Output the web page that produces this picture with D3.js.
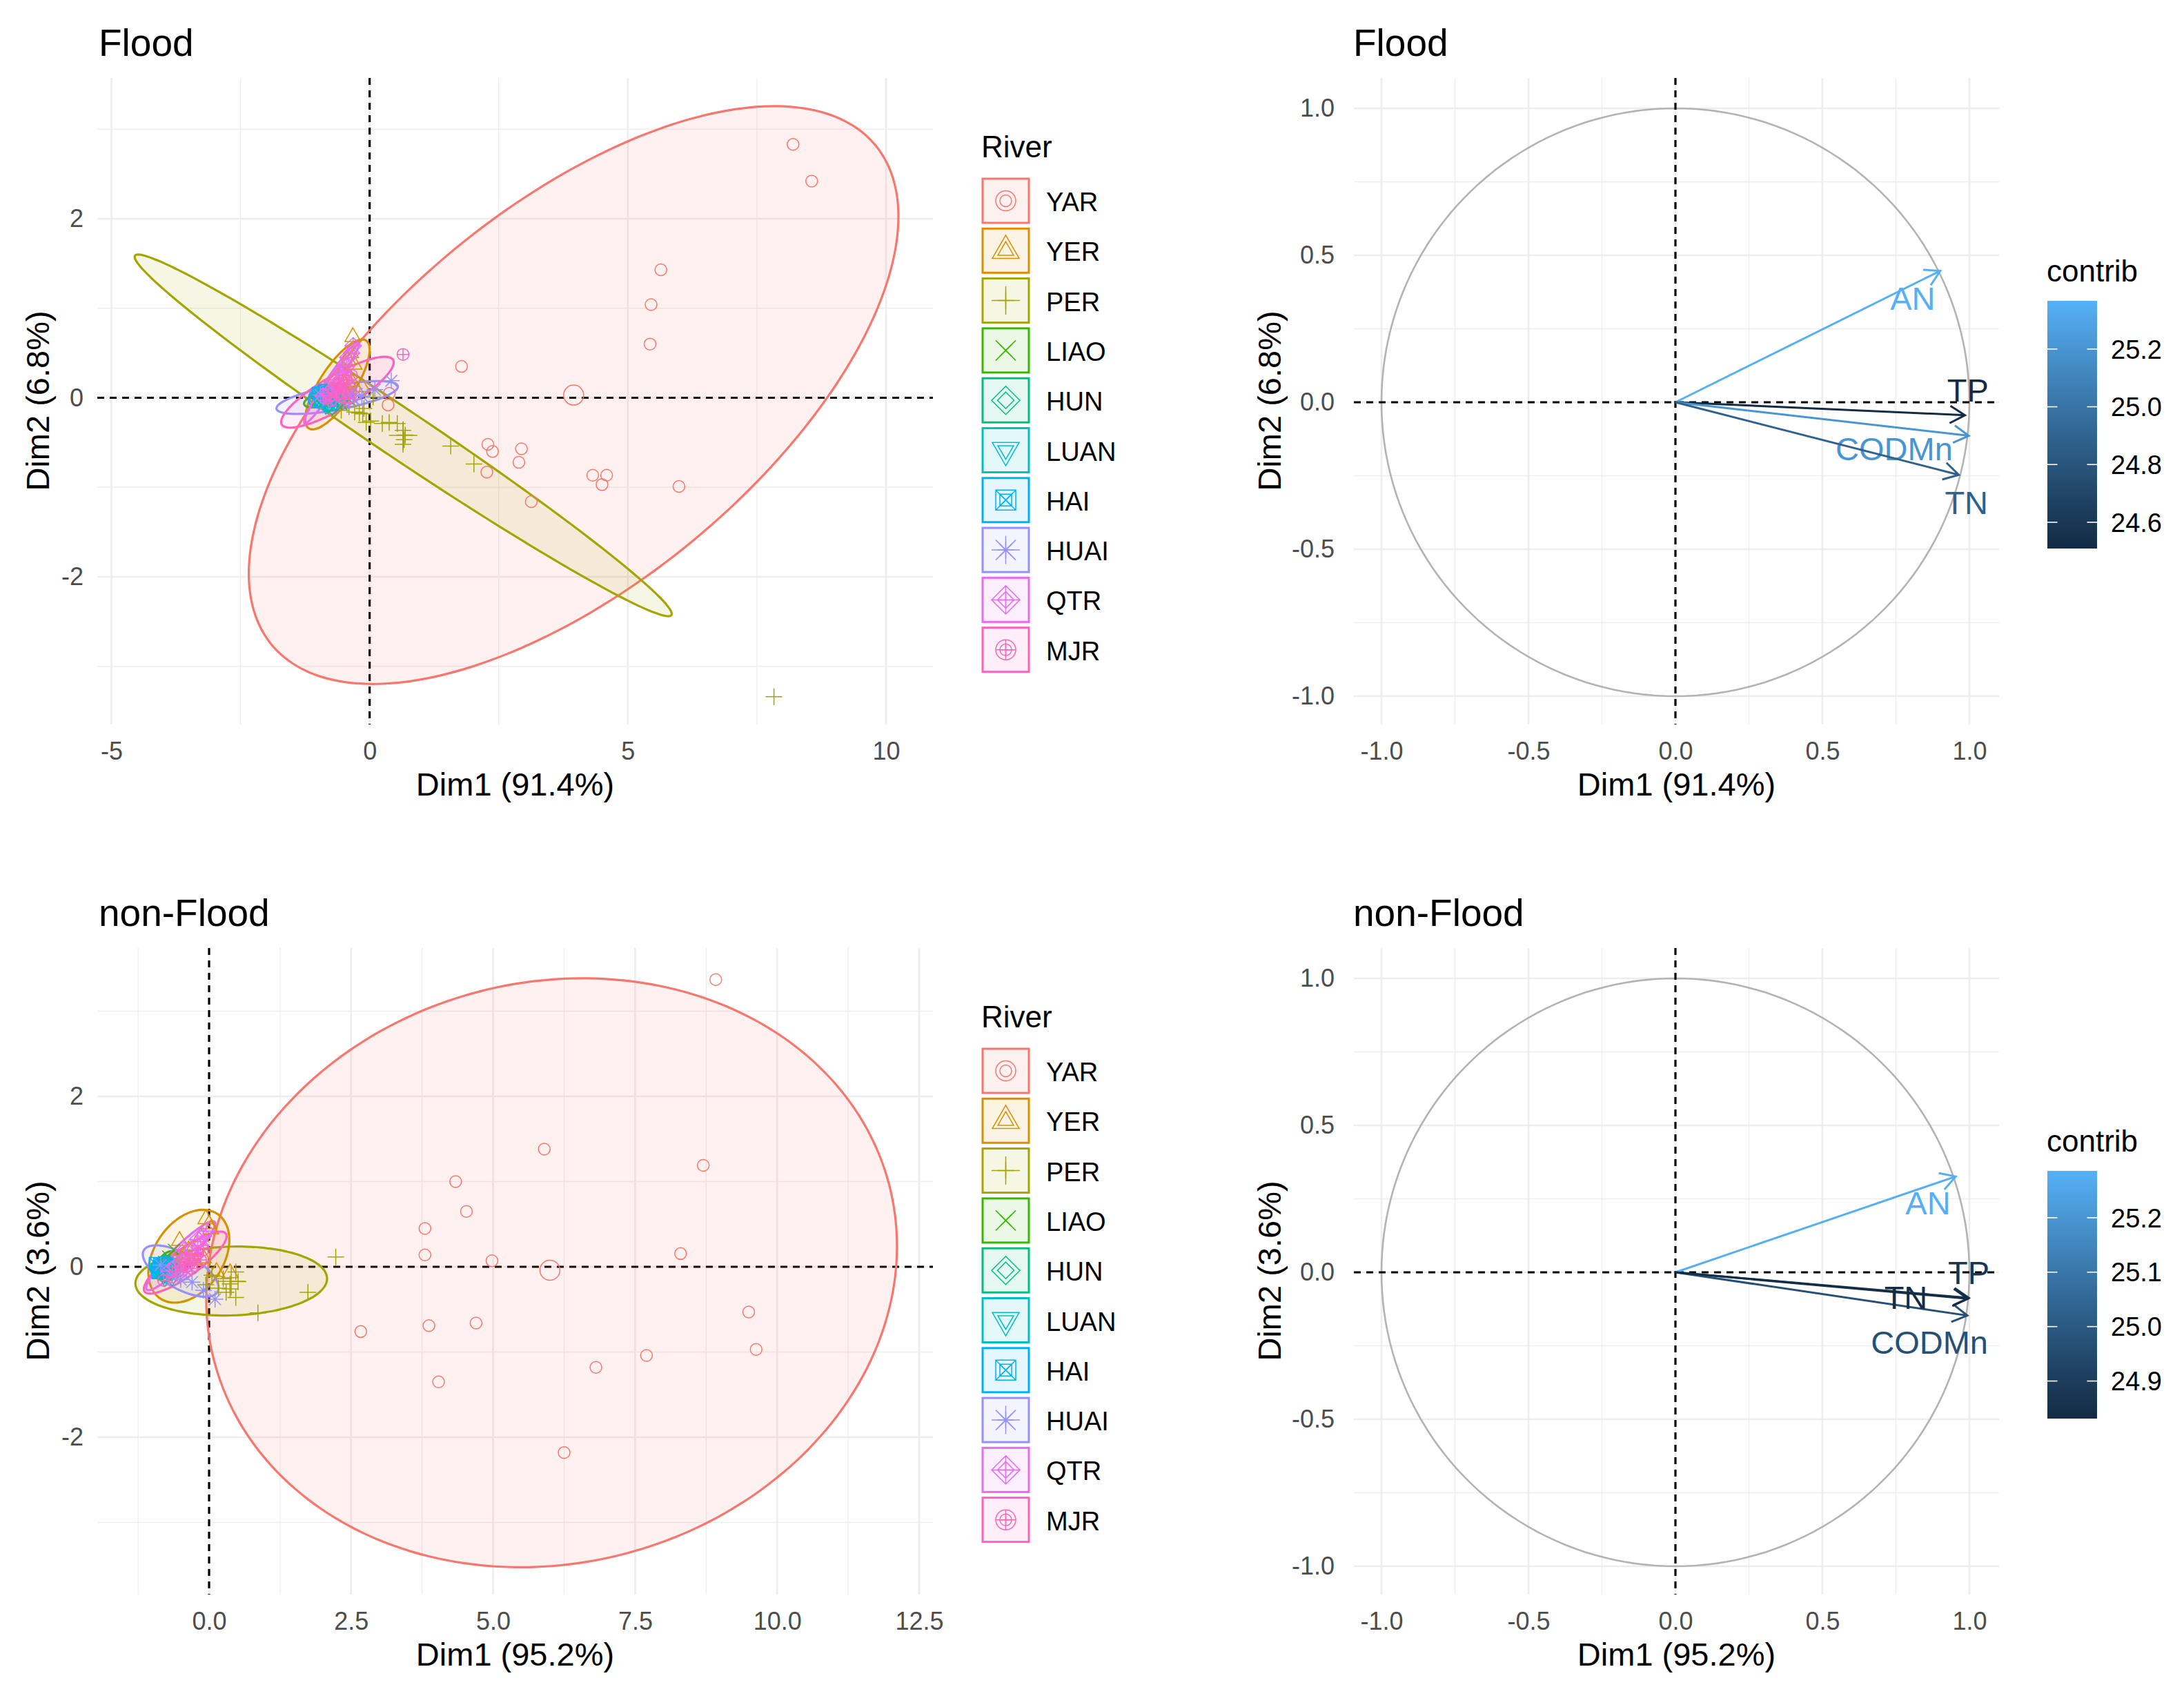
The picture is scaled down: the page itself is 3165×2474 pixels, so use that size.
<!DOCTYPE html>
<html>
<head>
<meta charset="utf-8">
<script src="https://cdn.jsdelivr.net/npm/d3@7"></script>
<style>
  html, body { margin: 0; background: #fff; }
  text { font-family: "Liberation Sans", Arial, sans-serif; }
</style>
</head>
<body>
<div id="chart"></div>
<script>
const rivers = ["YAR", "YER", "PER", "LIAO", "HUN", "LUAN", "HAI", "HUAI", "QTR", "MJR"];
const riverColors = ["#F8766D", "#D89000", "#A3A500", "#39B600", "#00BF7D", "#00BFC4", "#00B0F6", "#9590FF", "#E76BF3", "#FF62BC"];

// scores per river: [dim1, dim2]
const floodScores = [
  [[8.2,2.83],[8.56,2.42],[5.64,1.43],[5.45,1.04],[5.43,.6],[1.78,.35],[2.29,-.52],[2.38,-.6],[2.27,-.83],[2.94,-.57],[2.89,-.72],[3.13,-1.16],[4.32,-.865],[4.5,-.97],[4.59,-.865],[5.99,-.99],[.357,-.08],[.38,.05],[-.3,.1],[-.5,.02]],
  [[-.325,.68],[-.37,.5],[-.42,.42],[-.3,.37],[-.5,.3],[-.55,.2],[-.35,.18],[-.45,.05],[-.25,.08],[-.15,.12],[-.6,.1],[-.75,.08],[-.65,-.02]],
  [[7.83,-3.34],[1.57,-.54],[2.02,-.74],[.245,-.288],[.379,-.275],[.535,-.288],[.646,-.365],[.69,-.417],[.668,-.468],[.646,-.52],[-.29,-.16],[-.2,-.17],[-.134,-.18],[-.11,-.12],[.067,.008],[-.067,-.275],[.02,-.26],[-.55,-.14],[-.4,-.1]],
  [[-1.0,-.02],[-.85,.03],[-.7,-.05],[-.55,-.07],[-.4,-.02],[-.75,.01],[-.9,-.05],[-.62,.02]],
  [[-.95,.02],[-.8,-.06],[-.72,-.1],[-.85,.05],[-.7,.03],[-.6,-.03]],
  [[-.98,-.02],[-.85,-.05],[-.78,.02],[-.92,.04],[-.72,-.04]],
  [[-1.0,.05],[-.88,.08],[-.8,0],[-.95,-.04],[-.75,-.08],[-.82,.05]],
  [[.42,.19],[-.4,.05],[-.5,-.05],[-.65,0],[-.8,-.03],[-.95,.03],[-.3,-.02],[-.15,.02],[.1,.09]],
  [[-.32,.58],[-.35,.5],[-.45,.35],[-.5,.28],[-.55,.2],[-.62,.12],[-.7,.1],[-.8,.05],[-.9,.02],[-.55,.3],[-.42,.45],[-.6,.05],[-.65,.15]],
  [[.646,.484],[-.5,.2],[-.55,.12],[-.62,.05],[-.7,.08],[-.45,.1],[-.4,0],[-.8,0],[-.35,.25],[-.6,.16],[-.75,-.03],[-.5,0]]
];
const floodMeans = [[3.95,.03],[-.52,.2],[.65,-.42],[-.72,-.02],[-.8,-.01],[-.85,-.01],[-.87,.01],[-.4,.03],[-.58,.2],[-.45,.09]];
// ellipse per river: [centre x, centre y, half width, half height, correlation]
const floodEllipses = [
  [3.95,.03,6.29,3.227,.618],[-.624,.149,.624,.502,.77],[.65,-.42,5.2,2.02,-.987],
  [-.825,0,.446,.108,.6],[-.9,-.01,.2,.1,.4],[-.93,-.01,.15,.1,.2],[-.936,.02,.245,.129,.3],
  [-.628,.003,1.176,.184,.66],[-.735,.17,.535,.458,.97],[-.624,.062,1.09,.396,.84]
];

const nonFloodScores = [
  [[8.92,3.37],[5.9,1.38],[8.7,1.19],[4.34,1],[4.53,.65],[3.8,.45],[3.8,.14],[4.98,.07],[8.3,.155],[9.5,-.53],[9.63,-.97],[2.67,-.76],[3.87,-.69],[4.7,-.66],[4.04,-1.35],[6.81,-1.18],[7.7,-1.04],[6.25,-2.18]],
  [[-.057,.56],[0,.5],[.03,.44],[-.52,.305],[.37,-.073],[.13,-.06],[-.15,.35],[-.3,.2],[-.45,.12],[-.1,.1],[-.6,.05]],
  [[2.23,.116],[1.74,-.3],[.86,-.54],[.47,-.36],[.37,-.26],[.51,-.175],[.47,-.06],[.25,-.14],[.166,-.25],[-.057,-.21],[.05,-.1],[.3,-.3],[.37,-.2]],
  [[-.85,.02],[-.72,.12],[-.62,.2],[-.75,-.1],[-.6,-.05],[-.55,.05],[-.7,0]],
  [[-.9,-.03],[-.78,-.08],[-.7,.03],[-.82,.04],[-.65,-.06]],
  [[-.9,-.05],[-.8,-.1],[-.72,-.02],[-.85,.02],[-.65,-.12]],
  [[-.95,.04],[-.85,0],[-.75,-.06],[-.9,-.07],[-.68,.02]],
  [[.105,-.38],[-.1,-.275],[-.3,-.18],[-.5,-.15],[-.65,-.1],[-.85,.02],[-.4,-.05]],
  [[-.05,.42],[-.1,.36],[-.2,.32],[-.15,.25],[-.3,.2],[-.4,.1],[-.5,.05],[-.6,0],[-.7,-.05],[-.45,-.03],[-.25,.12]],
  [[-.1,.2],[-.2,.16],[-.28,.08],[-.38,.1],[-.45,.02],[-.55,-.05],[-.65,-.12],[-.8,-.16],[-.3,-.02],[-.15,.08]]
];
const nonFloodMeans = [[6,-.04],[-.36,.12],[.39,-.17],[-.72,.01],[-.78,-.02],[-.78,-.05],[-.8,-.01],[-.5,-.05],[-.42,.13],[-.42,.05]];
const nonFloodEllipses = [
  [6.03,-.07,6.08,3.456,.09],[-.356,.124,.712,.545,.35],[.39,-.167,1.687,.405,.07],
  [-.72,.008,.21,.175,.3],[-.78,-.01,.18,.12,.2],[-.76,-.02,.15,.1,.1],[-.805,-.005,.22,.13,.2],
  [-.5,-.05,.667,.302,-.65],[-.5,.13,.607,.405,.93],[-.42,.049,.728,.364,.85]
];

// variable arrows: tip, label position and contribution
const variables = ["AN", "TP", "CODMn", "TN"];
const floodTips = [[.901,.447],[.985,-.044],[.998,-.114],[.964,-.247]];
const floodLabels = [[.807,.355],[.995,.042],[.744,-.157],[.99,-.34]];
const floodContrib = [25.36,24.51,25.2,24.88];
const nonFloodTips = [[.9535,.326],[.998,-.087],[.993,-.147],[.995,-.09]];
const nonFloodLabels = [[.859,.236],[.998,0],[.864,-.237],[.784,-.085]];
const nonFloodContrib = [25.28,24.87,24.97,24.84];

const floodBarLimits = [24.509,25.367];
const floodBarTicks = [24.6,24.8,25.0,25.2];
const nonFloodBarLimits = [24.831,25.286];
const nonFloodBarTicks = [24.9,25.0,25.1,25.2];

const floodXTicks = [-5,0,5,10];
const floodXMinor = [-2.5,2.5,7.5];
const nonFloodXTicks = [0,2.5,5,7.5,10,12.5];
const nonFloodXMinor = [-1.25,1.25,3.75,6.25,8.75,11.25];
const scoreYTicks = [-2,0,2];
const scoreYMinor = [-3,-1,1,3];
const loadTicks = [-1,-.5,0,.5,1];
const loadMinor = [-.75,-.25,.25,.75];

const rowShift = 1261;
const panelTop = 113, panelBottom = 1050;

const svg = d3.select("#chart").append("svg")
  .attr("width", 3165).attr("height", 2474)
  .style("display", "block").style("background", "#fff");

// R pch symbols, r is the circle radius of the symbol
function symbolPath(i, r) {
  const q = Math.SQRT2 * r, p = d3.path();
  const poly = (pts) => { pts.forEach((c, k) => k ? p.lineTo(c[0], c[1]) : p.moveTo(c[0], c[1])); p.closePath(); };
  const seg = (a, b, c, d) => { p.moveTo(a, b); p.lineTo(c, d); };
  const circle = () => { p.moveTo(r, 0); p.arc(0, 0, r, 0, 2 * Math.PI); };
  const plus = (h) => { seg(-h, 0, h, 0); seg(0, -h, 0, h); };
  const cross = (h) => { seg(-h, -h, h, h); seg(-h, h, h, -h); };
  const diamond = () => poly([[0, -q], [q, 0], [0, q], [-q, 0]]);
  if (i === 0) circle();
  if (i === 1) poly([[0, -1.555 * r], [1.347 * r, .778 * r], [-1.347 * r, .778 * r]]);
  if (i === 2) plus(q);
  if (i === 3) cross(r);
  if (i === 4) diamond();
  if (i === 5) poly([[0, 1.555 * r], [1.347 * r, -.778 * r], [-1.347 * r, -.778 * r]]);
  if (i === 6) { poly([[-r, -r], [r, -r], [r, r], [-r, r]]); cross(r); }
  if (i === 7) { plus(q); cross(r); }
  if (i === 8) { diamond(); plus(q); }
  if (i === 9) { circle(); plus(r); }
  return p.toString();
}

function drawFrame(g, o) {
  const grid = (vals, w, vertical) => g.append("g").selectAll("line").data(vals).join("line")
    .attr("x1", d => vertical ? o.x(d) : o.left)
    .attr("x2", d => vertical ? o.x(d) : o.right)
    .attr("y1", d => vertical ? panelTop : o.y(d))
    .attr("y2", d => vertical ? panelBottom : o.y(d))
    .attr("stroke", "#EDEDED").attr("stroke-width", w);
  grid(o.yMinor, 1.3, false);
  grid(o.xMinor, 1.3, true);
  grid(o.yTicks, 2.6, false);
  grid(o.xTicks, 2.6, true);

  const xAxis = d3.axisBottom(o.x).tickValues(o.xTicks).tickSize(0).tickPadding(25).tickFormat(o.xFormat);
  const yAxis = d3.axisLeft(o.y).tickValues(o.yTicks).tickSize(0).tickPadding(o.yPad).tickFormat(o.yFormat);
  [g.append("g").attr("transform", `translate(0,${panelBottom})`).call(xAxis),
   g.append("g").attr("transform", `translate(${o.left},0)`).call(yAxis)].forEach(a => {
    a.select(".domain").remove();
    a.selectAll("text").attr("font-size", 36).attr("fill", "#4D4D4D")
      .attr("font-family", "Liberation Sans");
  });

  g.append("text").attr("x", o.titleX).attr("y", 81).attr("font-size", 55).text(o.title);
  g.append("text").attr("x", (o.left + o.right) / 2).attr("y", 1153)
    .attr("text-anchor", "middle").attr("font-size", 47).text(o.xTitle);
  g.append("text").attr("transform", `translate(${o.yTitleX},581) rotate(-90)`)
    .attr("text-anchor", "middle").attr("font-size", 47).text(o.yTitle);
}

function zeroLines(g, o) {
  const z = g.append("g").attr("stroke", "#000").attr("stroke-width", 3.2).attr("stroke-dasharray", "10 8");
  z.append("line").attr("x1", o.left).attr("x2", o.right).attr("y1", o.y(0)).attr("y2", o.y(0));
  z.append("line").attr("x1", o.x(0)).attr("x2", o.x(0)).attr("y1", panelTop).attr("y2", panelBottom);
}

function drawScores(g, o) {
  const a = Object.assign({ x: o.xScale, y: o.yScale, left: 141, right: 1352, titleX: 143, yPad: 20, yTitleX: 71,
    yMinor: scoreYMinor, yTicks: scoreYTicks, yFormat: d => String(d) }, o);
  drawFrame(g, a);
  zeroLines(g, a);

  const outline = d3.line().curve(d3.curveCardinalClosed);
  const angles = d3.range(0, 2 * Math.PI, Math.PI / 60);
  rivers.forEach((river, i) => {
    const [cx, cy, rx, ry, rho] = o.ellipses[i];
    const ring = angles.map(t => [
      a.x(cx + rx * Math.cos(t)),
      a.y(cy + ry * (rho * Math.cos(t) + Math.sqrt(1 - rho * rho) * Math.sin(t)))
    ]);
    g.append("path").attr("d", outline(ring))
      .attr("fill", riverColors[i]).attr("fill-opacity", .1)
      .attr("stroke", riverColors[i]).attr("stroke-width", 3.2);
  });
  rivers.forEach((river, i) => {
    const sg = g.append("g").attr("fill", "none").attr("stroke", riverColors[i]).attr("stroke-width", 1.5);
    sg.selectAll("path.pt").data(o.scores[i]).join("path").attr("class", "pt")
      .attr("transform", d => `translate(${a.x(d[0])},${a.y(d[1])})`)
      .attr("d", symbolPath(i, 8.5));
    sg.append("path")
      .attr("transform", `translate(${a.x(o.means[i][0])},${a.y(o.means[i][1])})`)
      .attr("d", symbolPath(i, 14.5));
  });

  // legend
  const lg = g.append("g");
  lg.append("text").attr("x", 1422).attr("y", 228).attr("font-size", 44).text("River");
  const row = d3.scaleBand().domain(rivers).range([254, 254 + 723]);
  const keys = lg.selectAll("g").data(rivers).join("g")
    .attr("transform", d => `translate(0,${row(d)})`);
  keys.append("rect").attr("x", 1424).attr("y", 5).attr("width", 67).attr("height", 64)
    .attr("fill", (d, i) => riverColors[i]).attr("fill-opacity", .1)
    .attr("stroke", (d, i) => riverColors[i]).attr("stroke-width", 3);
  [14.5, 8.5].forEach(r => keys.append("path")
    .attr("transform", "translate(1457.5,37)")
    .attr("d", (d, i) => symbolPath(i, r))
    .attr("fill", "none").attr("stroke", (d, i) => riverColors[i]).attr("stroke-width", 1.5));
  keys.append("text").attr("x", 1516).attr("y", 52).attr("font-size", 38).text(d => d);
}

function drawLoadings(g, o) {
  const x = d3.scaleLinear().domain([-1, 1]).range([2002, 2854]);
  const y = d3.scaleLinear().domain([-1, 1]).range([1009, 157]);
  const a = Object.assign({ x, y, left: 1962, right: 2897, titleX: 1961, yPad: 28, yTitleX: 1856, xTicks: loadTicks, xMinor: loadMinor,
    yTicks: loadTicks, yMinor: loadMinor, xFormat: d => d.toFixed(1), yFormat: d => d.toFixed(1) }, o);
  drawFrame(g, a);

  const circlePts = d3.range(0, 2 * Math.PI + .01, Math.PI / 90).map(t => [x(Math.cos(t)), y(Math.sin(t))]);
  g.append("path").attr("d", d3.line()(circlePts)).attr("fill", "none")
    .attr("stroke", "#B3B3B3").attr("stroke-width", 2.6);
  zeroLines(g, a);

  const color = d3.scaleLinear().domain(o.limits).range(["#132B43", "#56B1F7"]).interpolate(d3.interpolateLab);
  variables.forEach((name, i) => {
    const tx = x(o.tips[i][0]), ty = y(o.tips[i][1]);
    const ang = Math.atan2(ty - y(0), tx - x(0));
    const barb = (s) => [tx - 25 * Math.cos(ang + s), ty - 25 * Math.sin(ang + s)];
    const [b1, b2] = [barb(Math.PI / 6), barb(-Math.PI / 6)];
    const p = d3.path();
    p.moveTo(x(0), y(0)); p.lineTo(tx, ty);
    p.moveTo(b1[0], b1[1]); p.lineTo(tx, ty); p.lineTo(b2[0], b2[1]);
    g.append("path").attr("d", p.toString()).attr("fill", "none")
      .attr("stroke", color(o.contrib[i])).attr("stroke-width", 3);
    g.append("text").attr("x", x(o.labels[i][0])).attr("y", y(o.labels[i][1]))
      .attr("dy", ".36em").attr("text-anchor", "middle").attr("font-size", 47)
      .attr("fill", color(o.contrib[i])).text(name);
  });

  // colour bar
  const bar = d3.scaleLinear().domain(o.limits).range([795, 436]);
  const gradId = "grad" + o.title.replace(/\W/g, "");
  const stops = d3.range(0, 1.01, .1);
  g.append("defs").append("linearGradient").attr("id", gradId)
    .attr("x1", 0).attr("x2", 0).attr("y1", 1).attr("y2", 0)
    .selectAll("stop").data(stops).join("stop")
    .attr("offset", d => d).attr("stop-color", d => color(o.limits[0] + d * (o.limits[1] - o.limits[0])));
  g.append("text").attr("x", 2966).attr("y", 408).attr("font-size", 44).text("contrib");
  g.append("rect").attr("x", 2967).attr("y", 436).attr("width", 72).attr("height", 359)
    .attr("fill", `url(#${gradId})`);
  const t = g.append("g").selectAll("g").data(o.barTicks).join("g")
    .attr("transform", d => `translate(0,${bar(d)})`);
  [[2967, 2981.5], [3024.5, 3039]].forEach(s => t.append("line")
    .attr("x1", s[0]).attr("x2", s[1]).attr("stroke", "#fff").attr("stroke-width", 1.6));
  t.append("text").attr("x", 3059).attr("dy", ".36em").attr("font-size", 38).text(d => d.toFixed(1));
}

drawScores(svg.append("g"), {
  title: "Flood", xTitle: "Dim1 (91.4%)", yTitle: "Dim2 (6.8%)",
  xScale: d3.scaleLinear().domain([-5, 10]).range([161.5, 1284]),
  yScale: d3.scaleLinear().domain([-2, 2]).range([836, 317]),
  xTicks: floodXTicks, xMinor: floodXMinor, xFormat: d => String(d),
  scores: floodScores, means: floodMeans, ellipses: floodEllipses
});
drawLoadings(svg.append("g"), {
  title: "Flood", xTitle: "Dim1 (91.4%)", yTitle: "Dim2 (6.8%)",
  tips: floodTips, labels: floodLabels, contrib: floodContrib,
  limits: floodBarLimits, barTicks: floodBarTicks
});
drawScores(svg.append("g").attr("transform", `translate(0,${rowShift})`), {
  title: "non-Flood", xTitle: "Dim1 (95.2%)", yTitle: "Dim2 (3.6%)",
  xScale: d3.scaleLinear().domain([0, 12.5]).range([303, 1332]),
  yScale: d3.scaleLinear().domain([-2, 2]).range([2083 - rowShift, 1589 - rowShift]),
  xTicks: nonFloodXTicks, xMinor: nonFloodXMinor, xFormat: d => d.toFixed(1),
  scores: nonFloodScores, means: nonFloodMeans, ellipses: nonFloodEllipses
});
drawLoadings(svg.append("g").attr("transform", `translate(0,${rowShift})`), {
  title: "non-Flood", xTitle: "Dim1 (95.2%)", yTitle: "Dim2 (3.6%)",
  tips: nonFloodTips, labels: nonFloodLabels, contrib: nonFloodContrib,
  limits: nonFloodBarLimits, barTicks: nonFloodBarTicks
});
</script>
</body>
</html>
